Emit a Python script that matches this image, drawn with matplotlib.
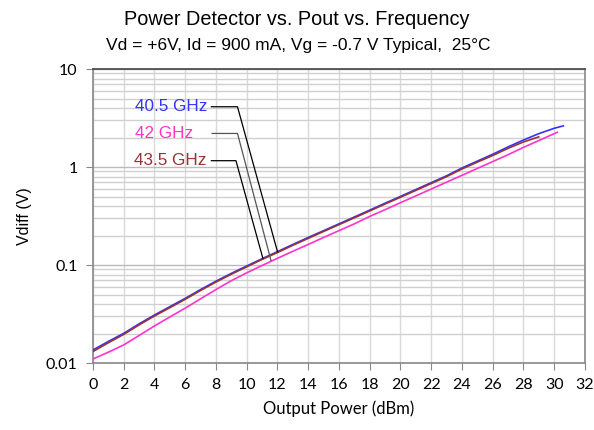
import matplotlib.pyplot as plt
from matplotlib.ticker import LogLocator, NullFormatter, FixedLocator

# Output power (dBm)
pout = [0, 1, 2, 3, 4, 5, 6, 7, 8, 9, 10, 11, 12, 13, 14, 15, 16, 17, 18, 19,
        20, 21, 22, 23, 24, 25, 26, 27, 28, 29, 30, 30.6]
# Vdiff (V) per frequency
v_405 = [0.0136, 0.0166, 0.0201, 0.0251, 0.0309, 0.0376, 0.0457, 0.0562, 0.0684,
         0.0822, 0.0977, 0.116, 0.137, 0.162, 0.191, 0.224, 0.263, 0.309, 0.363,
         0.427, 0.501, 0.589, 0.692, 0.813, 0.977, 1.148, 1.349, 1.603, 1.884,
         2.188, 2.483, 2.63]
pout_435 = pout[:30]
v_435 = [0.0131, 0.0161, 0.0196, 0.0245, 0.0302, 0.0367, 0.0447, 0.0550, 0.0670,
         0.0806, 0.0958, 0.114, 0.134, 0.159, 0.187, 0.220, 0.258, 0.303, 0.356,
         0.419, 0.491, 0.577, 0.678, 0.797, 0.955, 1.12, 1.31, 1.55, 1.80, 2.03]
pout_42 = pout[:31] + [30.2]
v_42 = [0.0110, 0.0129, 0.0153, 0.0191, 0.0239, 0.0295, 0.0363, 0.0452, 0.0562,
        0.0692, 0.0832, 0.0989, 0.117, 0.138, 0.162, 0.191, 0.224, 0.263, 0.313,
        0.367, 0.432, 0.507, 0.596, 0.700, 0.822, 0.966, 1.135, 1.334, 1.585,
        1.862, 2.188, 2.26]

labels = ["40.5 GHz", "42 GHz", "43.5 GHz"]
colors = ["#3333ff", "#ff33cc", "#993333"]
leader_colors = ["black", "#555555", "black"]
# callout: text left edge, leader start, elbow, point on curve
text_pos = [(2.75, 4.12), (2.75, 2.2), (2.65, 1.16)]
start_pos = [(7.7, 4.12), (7.75, 2.2), (7.7, 1.16)]
elbow_pos = [(9.4, 4.12), (9.4, 2.2), (9.3, 1.16)]
tip_pos = [(12.0, 0.137), (11.58, 0.111), (11.05, 0.117)]

fig = plt.figure(figsize=(5.94, 4.30), dpi=100)
ax = fig.add_axes([0.1566, 0.1558, 0.8280, 0.6837])

ax.plot(pout, v_405, color=colors[0], lw=1.2, zorder=3)
ax.plot(pout_435, v_435, color=colors[2], lw=1.2, zorder=4)
ax.plot(pout_42, v_42, color=colors[1], lw=1.2, zorder=3)

for lab, c, lc, tp, s, e, t in zip(labels, colors, leader_colors, text_pos,
                                  start_pos, elbow_pos, tip_pos):
    ax.plot([s[0], e[0], t[0]], [s[1], e[1], t[1]], color=lc, lw=0.9, zorder=5)
    ax.text(tp[0], tp[1], lab, color=c, ha="left", va="center",
            fontsize=12.3, family="Liberation Sans")

ax.set_yscale("log")
ax.set_xlim(0, 32)
ax.set_ylim(0.01, 10)
ax.xaxis.set_major_locator(FixedLocator(range(0, 33, 2)))
ax.yaxis.set_major_locator(FixedLocator([0.01, 0.1, 1, 10]))
ax.set_yticklabels(["0.01", "0.1", "1", "10"])
ax.yaxis.set_minor_locator(LogLocator(base=10, subs=range(2, 10)))
ax.yaxis.set_minor_formatter(NullFormatter())

ax.grid(True, which="major", axis="x", color="#d9d9d9", lw=1)
ax.grid(True, which="minor", axis="y", color="#d0d0d0", lw=1)
ax.grid(True, which="major", axis="y", color="#bbbbbb", lw=1)
ax.set_axisbelow(True)

for s in ax.spines.values():
    s.set_color("#888888")
    s.set_linewidth(1.2)
ax.spines["top"].set_color("#444444")

ax.tick_params(axis="both", which="major", length=5, color="#888888",
               labelsize=11.5, pad=6)
ax.tick_params(axis="y", which="minor", length=0)
for t in ax.get_xticklabels() + ax.get_yticklabels():
    t.set_family("Lato")

ax.set_xlabel("Output Power (dBm)", fontsize=12, family="Lato", labelpad=6)
ax.set_ylabel("Vdiff (V)", fontsize=11.5, family="Liberation Sans", labelpad=10)

fig.text(0.5, 0.955, "Power Detector vs. Pout vs. Frequency", ha="center", va="center",
         fontsize=14.3, family="Liberation Sans")
fig.text(0.502, 0.895, "Vd = +6V, Id = 900 mA, Vg = -0.7 V Typical,  25\u00b0C", ha="center",
         va="center", fontsize=12.5, family="Liberation Sans")

fig.savefig("out.png", dpi=100)
